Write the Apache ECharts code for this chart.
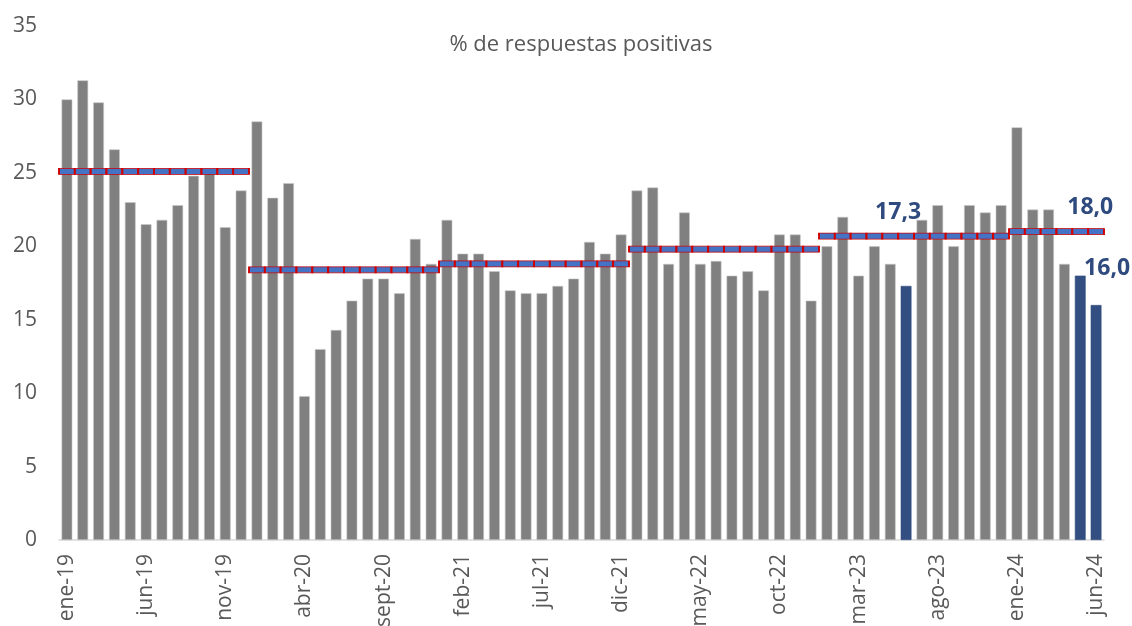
<!DOCTYPE html>
<html lang="es">
<head>
    <meta charset="UTF-8">
    <title>% de respuestas positivas</title>
    <script src="https://cdn.jsdelivr.net/npm/echarts@6/dist/echarts.min.js"></script>
    <style>
        html, body { margin: 0; padding: 0; background: #fff; }
        #container { width: 1132px; height: 626px; }
    </style>
</head>
<body>
<div id="container"></div>
<script type="text/javascript">
    // meses ene-19 .. jun-24
    var meses = ['ene', 'feb', 'mar', 'abr', 'may', 'jun', 'jul', 'ago', 'sept', 'oct', 'nov', 'dic'];
    var anios = ['19', '20', '21', '22', '23', '24'];

    var valores2019 = [30.0, 31.3, 29.8, 26.6, 23.0, 21.5, 21.8, 22.8, 24.8, 25.0, 21.3, 23.8];
    var valores2020 = [28.5, 23.3, 24.3, 9.8, 13.0, 14.3, 16.3, 17.8, 17.8, 16.8, 20.5, 18.8];
    var valores2021 = [21.8, 19.5, 19.5, 18.3, 17.0, 16.8, 16.8, 17.3, 17.8, 20.3, 19.5, 20.8];
    var valores2022 = [23.8, 24.0, 18.8, 22.3, 18.8, 19.0, 18.0, 18.3, 17.0, 20.8, 20.8, 16.3];
    var valores2023 = [20.0, 22.0, 18.0, 20.0, 18.8, 17.3, 21.8, 22.8, 20.0, 22.8, 22.3, 22.8];
    var valores2024 = [28.1, 22.5, 22.5, 18.8, 18.0, 16.0];

    // promedio anual
    var promedios = [25.1, 18.4, 18.8, 19.8, 20.7, 21.0];

    // barras destacadas (indice de mes) y su etiqueta
    var destacados = [53, 64, 65];
    var etiquetas = ['17,3', '18,0', '16,0'];
    var offsetsEtiqueta = [[-8, -62], [10, -57], [11, -25]];

    var valoresPorAnio = [valores2019, valores2020, valores2021, valores2022, valores2023, valores2024];

    var categorias = [];
    var barras = [];
    var lineaPromedio = [];
    for (var a = 0; a < valoresPorAnio.length; a++) {
        for (var m = 0; m < valoresPorAnio[a].length; m++) {
            categorias.push(meses[m] + '-' + anios[a]);
            barras.push(valoresPorAnio[a][m]);
            lineaPromedio.push(promedios[a]);
        }
    }

    var datosBarras = barras.map(function (v, i) {
        var k = destacados.indexOf(i);
        if (k < 0) return v;
        return {
            value: v,
            itemStyle: { color: '#334f82', borderColor: '#334f82' },
            label: {
                show: true,
                position: 'top',
                distance: 0,
                offset: offsetsEtiqueta[k],
                formatter: etiquetas[k],
                color: '#2f4a7e',
                fontSize: 23,
                fontWeight: 'bold',
                fontFamily: 'Open Sans'
            }
        };
    });

    var dom = document.getElementById('container');
    var myChart = echarts.init(dom);

    var option = {
        animation: false,
        title: {
            text: '% de respuestas positivas',
            left: 576,
            top: 29,
            textAlign: 'center',
            textStyle: {
                color: '#595959',
                fontSize: 22,
                fontWeight: 'normal',
                fontFamily: 'Open Sans'
            }
        },
        grid: {
            left: 59,
            right: 28,
            top: 26,
            bottom: 86,
            outerBoundsMode: 'none',
            containLabel: false
        },
        xAxis: {
            type: 'category',
            data: categorias,
            axisLine: { lineStyle: { color: '#d9d9d9', width: 1.5 } },
            axisTick: { show: false },
            axisLabel: {
                interval: 4,
                rotate: 90,
                color: '#595959',
                fontSize: 21,
                fontFamily: 'Open Sans',
                margin: 14
            }
        },
        yAxis: {
            type: 'value',
            min: 0,
            max: 35,
            interval: 5,
            splitLine: { show: false },
            axisLine: { show: false },
            axisTick: { show: false },
            axisLabel: {
                color: '#595959',
                fontSize: 21,
                fontFamily: 'Open Sans',
                margin: 22
            }
        },
        series: [
            {
                name: '% respuestas positivas',
                type: 'bar',
                barCategoryGap: '32%',
                itemStyle: {
                    color: '#808080',
                    borderColor: '#c8c8c8',
                    borderWidth: 0.6
                },
                data: datosBarras
            },
            {
                name: 'Promedio anual',
                type: 'scatter',
                symbol: 'rect',
                symbolSize: [15.8, 6],
                itemStyle: {
                    color: '#4472c4',
                    borderColor: '#d00000',
                    borderWidth: 1.2,
                    opacity: 1
                },
                z: 5,
                data: lineaPromedio
            }
        ]
    };

    myChart.setOption(option, true);
</script>
</body>
</html>
